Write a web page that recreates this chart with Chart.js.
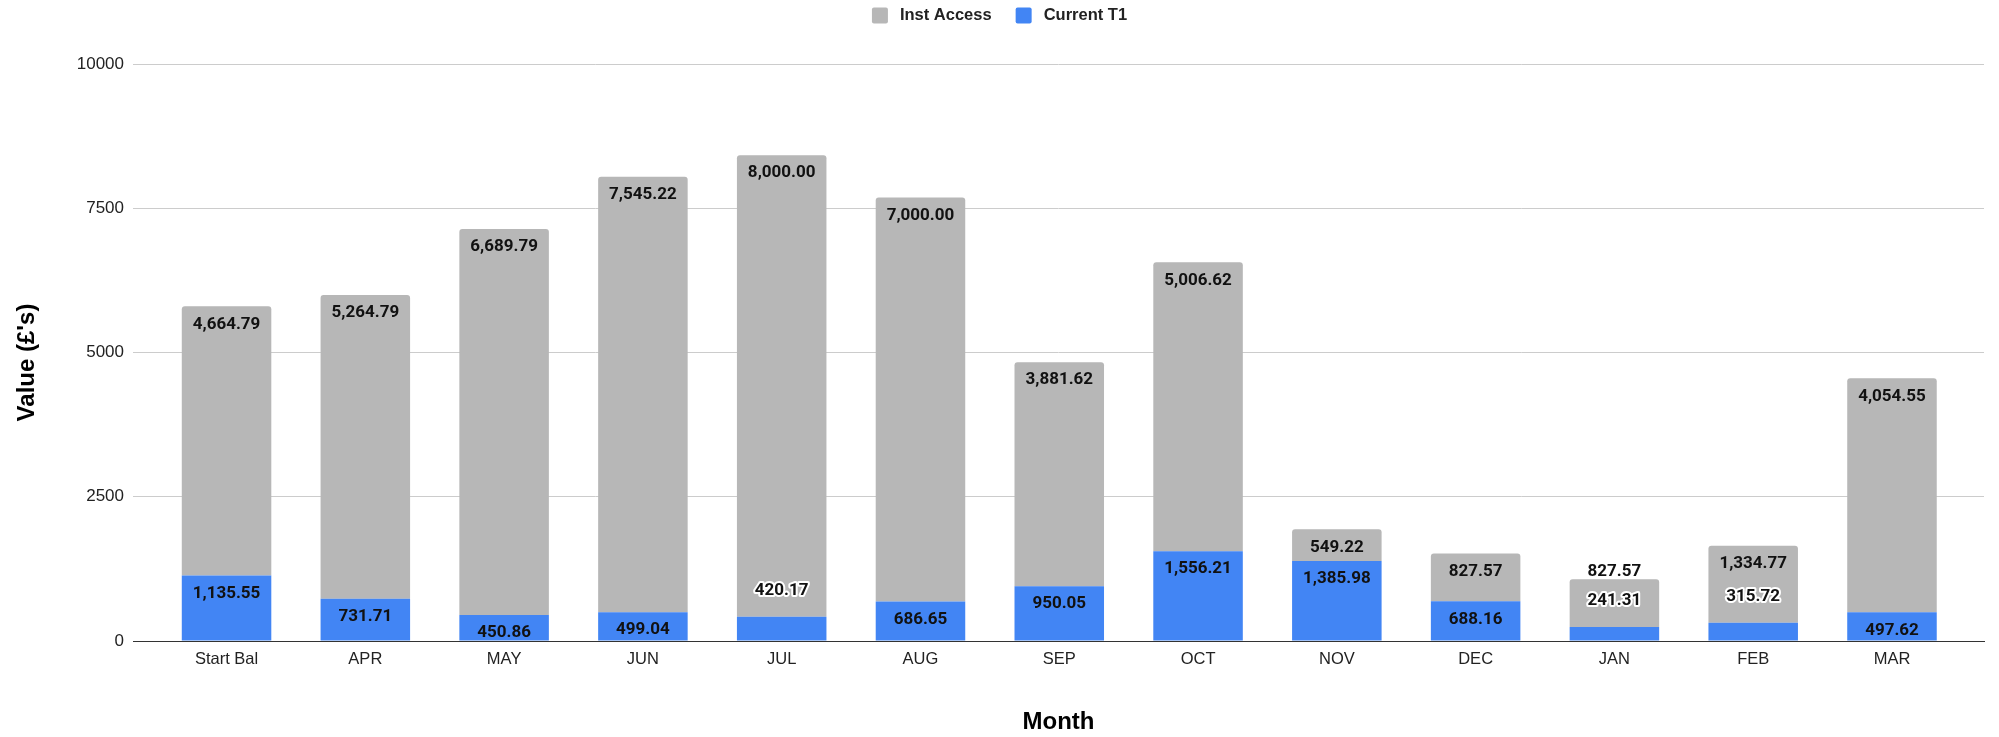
<!DOCTYPE html>
<html>
<head>
<meta charset="utf-8">
<script src="https://cdn.jsdelivr.net/npm/chart.js@4.4.0/dist/chart.umd.min.js"></script>
<style>
  html, body { margin: 0; padding: 0; background: #fff; }
  #wrap { width: 1999px; height: 737px; }
</style>
</head>
<body>
<div id="wrap"><canvas id="chart"></canvas></div>
<script>
const months = ["Start Bal", "APR", "MAY", "JUN", "JUL", "AUG", "SEP", "OCT", "NOV", "DEC", "JAN", "FEB", "MAR"];
const currentT1 = [1135.55, 731.71, 450.86, 499.04, 420.17, 686.65, 950.05, 1556.21, 1385.98, 688.16, 241.31, 315.72, 497.62];
const instAccess = [4664.79, 5264.79, 6689.79, 7545.22, 8000.00, 7000.00, 3881.62, 5006.62, 549.22, 827.57, 827.57, 1334.77, 4054.55];
const yTicks = [0, 2500, 5000, 7500, 10000];
const yTitle = "Value (£'s)";

const sansFont = "'Liberation Sans', Arial, sans-serif";
Chart.defaults.font.family = sansFont;
Chart.defaults.color = "#222";

const fmt = (v) => v.toLocaleString("en-GB", { minimumFractionDigits: 2, maximumFractionDigits: 2 });

function drawLabel(ctx, text, x, y, halo) {
  if (halo) {
    ctx.lineWidth = 4;
    ctx.strokeStyle = "#fff";
    ctx.strokeText(text, x, y);
  }
  ctx.fillStyle = "#111";
  ctx.fillText(text, x, y);
}

// Sheets-style labels: inside the top of a segment, pushed above it when it is too thin
const valueLabels = {
  id: "valueLabels",
  afterDatasetsDraw(chart) {
    const { ctx } = chart;
    const low = chart.getDatasetMeta(0).data;
    const high = chart.getDatasetMeta(1).data;
    ctx.save();
    ctx.font = "bold 17px Roboto";
    ctx.textAlign = "center";
    ctx.textBaseline = "middle";
    ctx.lineJoin = "round";
    low.forEach((bar, i) => {
      const top = high[i];
      let lowY = bar.y + 18, lowHalo = false;
      if (bar.base - bar.y < 25) { lowY = bar.y - 26; lowHalo = true; }
      let highY = top.y + 18, highHalo = false;
      if (lowHalo && lowY - highY < 24) { highY = top.y - 8; highHalo = true; }
      drawLabel(ctx, fmt(chart.data.datasets[0].data[i].y), bar.x, lowY, lowHalo);
      drawLabel(ctx, fmt(chart.data.datasets[1].data[i].y), top.x, highY, highHalo);
    });
    ctx.restore();
  }
};

// Legend centred on top (top series first) and the y title, which sits a bit below centre
const chartFrame = {
  id: "chartFrame",
  afterDraw(chart) {
    const { ctx, chartArea } = chart;
    const items = chart.data.datasets.slice().reverse();
    ctx.save();
    ctx.font = "bold 16.5px " + sansFont;
    ctx.textBaseline = "middle";
    ctx.textAlign = "left";
    const widths = items.map((d) => ctx.measureText(d.label).width);
    const total = widths.reduce((a, w) => a + 16 + 12 + w, 0) + 24 * (items.length - 1);
    let x = chart.width / 2 - total / 2;
    const cy = 15.5;
    items.forEach((d, i) => {
      ctx.fillStyle = d.backgroundColor;
      ctx.beginPath();
      ctx.roundRect(x, cy - 8, 16, 16, 2);
      ctx.fill();
      ctx.fillStyle = "#222";
      ctx.fillText(d.label, x + 28, cy);
      x += 28 + widths[i] + 24;
    });

    ctx.translate(27, (chartArea.top + chartArea.bottom) / 2 + 10);
    ctx.rotate(-Math.PI / 2);
    ctx.font = "bold 24px " + sansFont;
    ctx.textAlign = "center";
    ctx.fillStyle = "#000";
    ctx.fillText(yTitle, 0, 0);
    ctx.restore();
  }
};

new Chart(document.getElementById("chart"), {
  type: "bar",
  data: {
    datasets: [
      {
        label: "Current T1",
        data: currentT1.map((v, i) => ({ x: i, y: v })),
        backgroundColor: "#4285f4",
        categoryPercentage: 1,
        barPercentage: 0.645
      },
      {
        label: "Inst Access",
        data: instAccess.map((v, i) => ({ x: i, y: v })),
        backgroundColor: "#b7b7b7",
        borderRadius: { topLeft: 3, topRight: 3, bottomLeft: 0, bottomRight: 0 },
        borderSkipped: false,
        categoryPercentage: 1,
        barPercentage: 0.645
      }
    ]
  },
  options: {
    responsive: true,
    maintainAspectRatio: false,
    animation: false,
    layout: { padding: { top: 64, right: 15, bottom: 0, left: 0 } },
    plugins: { legend: { display: false }, tooltip: { enabled: false } },
    scales: {
      x: {
        type: "linear",
        stacked: true,
        offset: false,
        min: -0.674,
        max: 12.663,
        z: 1,
        afterBuildTicks: (s) => { s.ticks = months.map((_, i) => ({ value: i })); },
        afterFit: (s) => { s.height = 96; },
        grid: { display: false, drawTicks: false, offset: false },
        border: { display: true, color: "#333", width: 1 },
        ticks: {
          callback: (v) => months[v],
          font: { size: 16.5 },
          color: "#222",
          padding: 9,
          autoSkip: false,
          maxRotation: 0
        },
        title: {
          display: true,
          text: "Month",
          color: "#000",
          font: { size: 24, weight: "bold" },
          padding: { top: 0, bottom: 0 }
        }
      },
      y: {
        stacked: true,
        min: 0,
        max: 10000,
        afterBuildTicks: (s) => { s.ticks = yTicks.map((v) => ({ value: v })); },
        afterFit: (s) => { s.width = 133; },
        grid: { color: "#cccccc", lineWidth: 1, drawTicks: false },
        border: { display: false },
        ticks: {
          callback: (v) => String(v),
          font: { size: 17 },
          color: "#222",
          padding: 9
        }
      }
    }
  },
  plugins: [valueLabels, chartFrame]
});
</script>
</body>
</html>
